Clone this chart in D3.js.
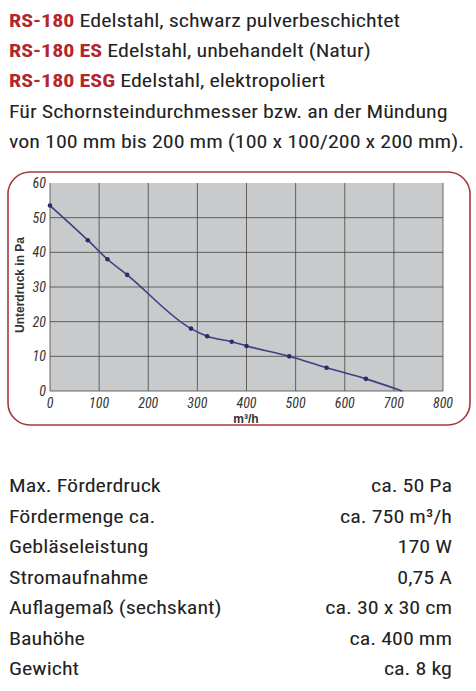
<!DOCTYPE html><html><head><meta charset="utf-8"><script src="https://cdn.jsdelivr.net/npm/d3@7"></script>
<style>body{margin:0;background:#fff}svg{display:block}</style></head><body><svg id="c" width="476" height="691"></svg>
<script>
const flow=[0,77,117,157,287,320,370,400,487,563,643,717];
const pressure=[53.5,43.5,38,33.5,18,15.8,14.2,13,10,6.7,3.5,0];
const xTicks=[0,100,200,300,400,500,600,700,800];
const yTicks=[0,10,20,30,40,50,60];
const headModels=["RS-180","RS-180 ES","RS-180 ESG"];
const headDesc=["Edelstahl, schwarz pulverbeschichtet","Edelstahl, unbehandelt (Natur)","Edelstahl, elektropoliert"];
const introLines=["Für Schornsteindurchmesser bzw. an der Mündung","von 100 mm bis 200 mm (100 x 100/200 x 200 mm)."];
const specLabels=["Max. Förderdruck","Fördermenge ca.","Gebläseleistung","Stromaufnahme","Auflagemaß (sechskant)","Bauhöhe","Gewicht"];
const specValues=["ca. 50 Pa","ca. 750 m³/h","170 W","0,75 A","ca. 30 x 30 cm","ca. 400 mm","ca. 8 kg"];
const svg=d3.select("#c");
const F="'Liberation Sans Narrow','Arial Narrow','Roboto Condensed',sans-serif";
const SX=1.16;
function txt(xp,yp,anchor){return svg.append("text").attr("transform",`translate(${xp},${yp}) scale(${SX},1)`).attr("text-anchor",anchor||"start").attr("font-family",F).attr("font-size",19).attr("fill","#222");}
headModels.forEach((m,i)=>{
  const t=txt(9,27+i*30);
  t.append("tspan").attr("fill","#b3262d").attr("font-weight","bold").text(m+" ");
  t.append("tspan").text(headDesc[i]);
});
introLines.forEach((l,i)=>txt(9,118+i*30).text(l));
svg.append("rect").attr("x",8).attr("y",172).attr("width",462).attr("height",253).attr("rx",22).attr("fill","#fff").attr("stroke","#a33a3e").attr("stroke-width",1.6);
const x=d3.scaleLinear().domain([0,800]).range([50,443]);
const y=d3.scaleLinear().domain([0,60]).range([391,183]);
svg.append("rect").attr("x",50).attr("y",183).attr("width",393).attr("height",208).attr("fill","#c8cacc");
svg.selectAll(".gx").data(xTicks).join("line").attr("x1",d=>x(d)).attr("x2",d=>x(d)).attr("y1",183).attr("y2",391).attr("stroke","#444").attr("stroke-width",0.8);
svg.selectAll(".gy").data(yTicks.slice(0,-1)).join("line").attr("x1",50).attr("x2",443).attr("y1",d=>y(d)).attr("y2",d=>y(d)).attr("stroke","#444").attr("stroke-width",0.8);
svg.selectAll(".tx").data(xTicks).join("text").attr("x",d=>x(d)).attr("y",408).attr("text-anchor","middle").attr("font-family",F).attr("font-style","italic").attr("font-size",14).attr("fill","#333").text(d=>d);
svg.selectAll(".ty").data(yTicks).join("text").attr("x",46).attr("y",d=>y(d)+5).attr("text-anchor","end").attr("font-family",F).attr("font-style","italic").attr("font-size",14).attr("fill","#333").text(d=>d);
svg.append("text").attr("x",246).attr("y",423).attr("text-anchor","middle").attr("font-family","Liberation Sans,Arial").attr("font-weight","bold").attr("font-size",12).attr("fill","#333").text("m³/h");
svg.append("text").attr("transform","translate(24,285) rotate(-90)").attr("text-anchor","middle").attr("font-family","Liberation Sans,Arial").attr("font-weight","bold").attr("font-size",12).attr("fill","#333").text("Unterdruck in Pa");
const pts=flow.map((f,i)=>[f,pressure[i]]);
svg.append("path").datum(pts).attr("d",d3.line().x(d=>x(d[0])).y(d=>y(d[1])).curve(d3.curveMonotoneX)).attr("fill","none").attr("stroke","#3d3f86").attr("stroke-width",1.6);
svg.selectAll(".pt").data(pts.slice(0,-1)).join("circle").attr("cx",d=>x(d[0])).attr("cy",d=>y(d[1])).attr("r",2.3).attr("fill","#2a2c6a");
specLabels.forEach((l,i)=>{
  txt(9,492+i*30.5).text(l);
  txt(452,492+i*30.5,"end").text(specValues[i]);
});
</script></body></html>
